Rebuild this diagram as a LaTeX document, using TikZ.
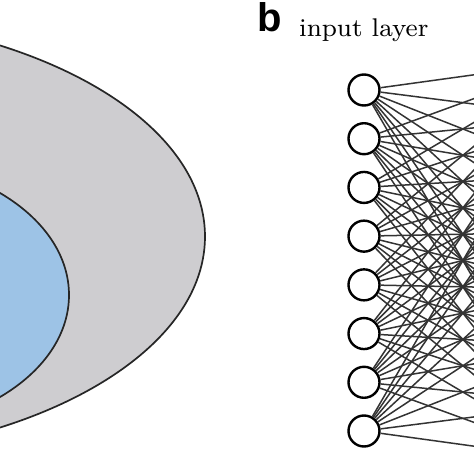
\documentclass[tikz,border=0pt]{standalone}
\usepackage{fontspec}
\newfontfamily\labelsans{Liberation Sans}
\definecolor{outergray}{RGB}{206,205,208}
\definecolor{innerblue}{RGB}{157,195,230}
\tikzset{
  setline/.style={line width=1.7pt, draw=black!85},
  neuron/.style={circle, draw=black, fill=white, line width=2.4pt, minimum size=31pt, inner sep=0pt},
  link/.style={line width=1.5pt, draw=black!80},
}
\begin{document}
\begin{tikzpicture}[x=1pt,y=-1pt]
\useasboundingbox (0,0) rectangle (474,474);
\clip (0,0) rectangle (474,474);
\fill[white] (0,0) rectangle (474,474);
% panel a (cut off)
\draw[setline, fill=outergray] (-213,236.5) ellipse [x radius=418pt, y radius=222pt];
\draw[setline, fill=innerblue] (-131,295) ellipse [x radius=200pt, y radius=135pt];
% panel b
\node[anchor=base west, inner sep=0pt, font=\labelsans\bfseries\fontsize{40}{40}\selectfont] (lab) at (257,31.7) {b};
\node[anchor=base west, inner sep=0pt] (title) at (299,36.5) {\scalebox{3.2}{\fontsize{8}{10}\selectfont\addfontfeature{FakeBold=1}input layer}};
\foreach \i in {1,...,8} {
  \node[neuron] (in\i) at (364,{90+(\i-1)*48.714}) {};
}
\foreach \j in {1,...,8} {
  \coordinate (h\j) at (579,{60.3+(\j-1)*57.2});
}
\foreach \i in {1,...,8} {
  \foreach \j in {1,...,8} {
    \draw[link] (in\i) -- (h\j);
  }
}
\end{tikzpicture}
\end{document}
